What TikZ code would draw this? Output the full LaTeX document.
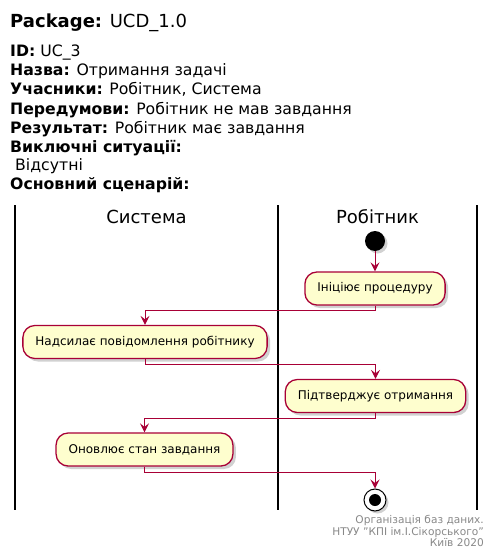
\documentclass[tikz,border=0pt]{standalone}
\usepackage{fontspec}
\setmainfont{DejaVu Sans}
\usetikzlibrary{arrows.meta, shadows, positioning}
\definecolor{umlred}{HTML}{A80036}
\definecolor{umlfill}{HTML}{FEFECE}
\definecolor{umlgray}{HTML}{888888}

\tikzset{
  act/.style={draw=umlred, fill=umlfill, line width=1.3pt, rounded corners=12pt,
    minimum height=33pt, inner xsep=12.5pt, font=\fontsize{12}{14}\selectfont,
    drop shadow={shadow xshift=3pt, shadow yshift=-3pt, opacity=0.3, fill=black!60}},
  flow/.style={draw=umlred, line width=1pt, -{Stealth[length=9pt, width=9pt, inset=3.5pt]}},
  lane/.style={line width=1.6pt},
  lanetitle/.style={anchor=base, inner sep=0pt, font=\fontsize{18}{21}\selectfont},
  hdr/.style={anchor=base west, inner sep=0pt, font=\fontsize{15.7}{18}\selectfont},
  foot/.style={anchor=base east, inner sep=0pt, text=umlgray, font=\fontsize{10.6}{12}\selectfont},
  startdot/.style={circle, fill=black, minimum size=20pt, inner sep=0pt,
    drop shadow={shadow xshift=2.5pt, shadow yshift=-2.5pt, opacity=0.3, fill=black!60}},
  stopdot/.style={circle, draw=black, fill=white, line width=1pt, minimum size=22pt, inner sep=0pt,
    drop shadow={shadow xshift=2.5pt, shadow yshift=-2.5pt, opacity=0.3, fill=black!60}}
}

\begin{document}
\begin{tikzpicture}[x=1pt, y=-1pt]
\useasboundingbox (0,0) rectangle (496,559);

% --- Заголовок ---
\node[hdr, font=\fontsize{18}{21}\selectfont] (pkg) at (10,27.3) {\textbf{Package:} UCD\_1.0};
\node[hdr] (hid)   at (10,57)  {\textbf{ID:} UC\_3};
\node[hdr] (hname) at (10,76)  {\textbf{Назва:} Отримання задачі};
\node[hdr] (hpart) at (10,95)  {\textbf{Учасники:} Робітник, Система};
\node[hdr] (hpre)  at (10,114) {\textbf{Передумови:} Робітник не мав завдання};
\node[hdr] (hres)  at (10,133) {\textbf{Результат:} Робітник має завдання};
\node[hdr] (hexc)  at (10,152) {\textbf{Виключні ситуації:}};
\node[hdr] (hnone) at (10,170) {\ Відсутні};
\node[hdr] (hmain) at (10,189) {\textbf{Основний сценарій:}};

% --- Доріжки ---
\draw[lane] (15,205) -- (15,510);
\draw[lane] (278,205) -- (278,510);
\draw[lane] (477,205) -- (477,510);
\node[lanetitle] (tsys) at (146.5,223) {Система};
\node[lanetitle] (twrk) at (377.5,223) {Робітник};

% --- Дії ---
\node[startdot] (start) at (375,241) {};
\node[act] (ini)  at (375,288.5) {Ініціює процедуру};
\node[act] (nad)  at (145,342)   {Надсилає повідомлення робітнику};
\node[act] (pidt) at (375.5,396) {Підтверджує отримання};
\node[act] (onov) at (144.5,449.5) {Оновлює стан завдання};
\node[stopdot] (stop) at (375,500) {};
\fill (stop) circle (6pt);

% --- Переходи ---
\draw[flow] (start) -- (ini);
\draw[flow] (ini.south) -- ++(0,5) -| (nad.north);
\draw[flow] (nad.south) -- ++(0,5) -| (pidt.north);
\draw[flow] (pidt.south) -- ++(0,5) -| (onov.north);
\draw[flow] (onov.south) -- ++(0,6) -| (stop.north);

% --- Підпис ---
\node[foot] (f1) at (484,523.5) {Організація баз даних.};
\node[foot] (f2) at (484,535.2) {НТУУ \char"22КПІ ім.І.Сікорського\char"22};
\node[foot] (f3) at (484,546.8) {Київ 2020};
\end{tikzpicture}
\end{document}
